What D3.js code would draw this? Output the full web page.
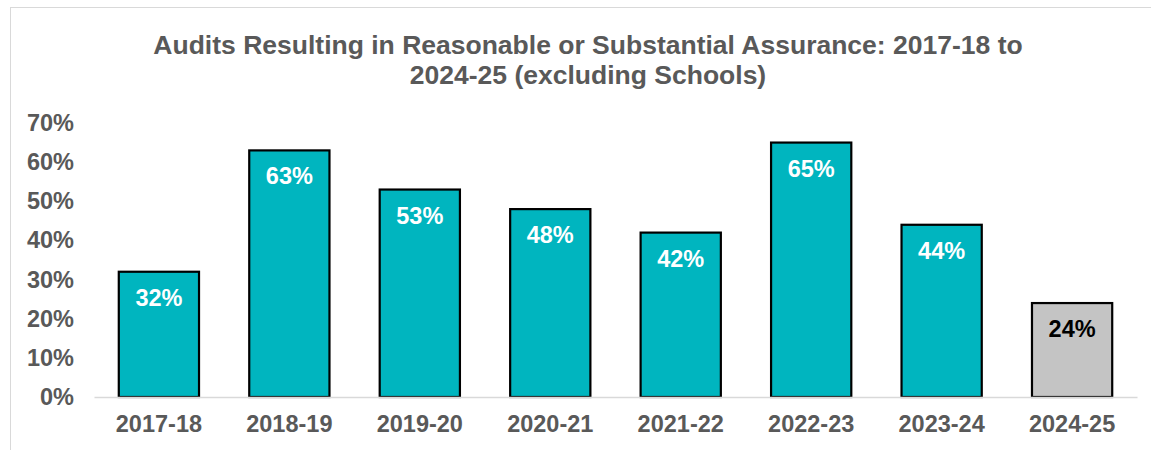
<!DOCTYPE html>
<meta charset="utf-8">
<title>Audits Resulting in Reasonable or Substantial Assurance</title>
<style>
  body { margin: 0; background: #fff; }
  svg { display: block; font-family: "Liberation Sans", Arial, sans-serif; }
</style>
<svg width="1151" height="450"></svg>
<script src="https://cdn.jsdelivr.net/npm/d3@7"></script>
<script>
  var years = ["2017-18", "2018-19", "2019-20", "2020-21", "2021-22", "2022-23", "2023-24", "2024-25"],
    values = [32, 63, 53, 48, 42, 65, 44, 24],
    yTicks = [0, 10, 20, 30, 40, 50, 60, 70],
    titleLines = ["Audits Resulting in Reasonable or Substantial Assurance: 2017-18 to", "2024-25 (excluding Schools)"]

  var svg = d3.select("svg"),
    margin = {top: 123, right: 14, bottom: 53, left: 94},
    width = 1151 - margin.left - margin.right,
    height = 450 - margin.top - margin.bottom

  // chart frame
  svg.append("rect")
    .attr("x", 10.5).attr("y", 7.5)
    .attr("width", 1200).attr("height", 600)
    .attr("fill", "none").attr("stroke", "#d9d9d9").attr("stroke-width", 1)

  svg.append("g").selectAll("text")
    .data(titleLines)
    .enter().append("text")
      .attr("x", 588)
      .attr("y", (d, i) => 53.5 + i * 30)
      .attr("text-anchor", "middle")
      .attr("font-size", "26.5px").attr("font-weight", "bold").attr("fill", "#595959")
      .text((d) => d)

  var x = d3.scaleBand().domain(years).range([0, width]).paddingInner(0.385).paddingOuter(0.19)
  var y = d3.scaleLinear().domain([0, 70]).range([height, 0])

  var g = svg.append("g").attr("transform", "translate(" + margin.left + "," + margin.top + ")")

  var yAxis = g.append("g")
    .call(d3.axisLeft(y).tickValues(yTicks).tickFormat((d) => d + "%").tickSize(0).tickPadding(20))
  yAxis.select(".domain").remove()
  yAxis.selectAll("text")
    .attr("font-size", "23.5px").attr("font-weight", "bold").attr("fill", "#595959")
    .attr("font-family", "Liberation Sans, Arial, sans-serif")

  g.selectAll(".bar")
    .data(values)
    .enter().append("rect")
      .attr("class", "bar")
      .attr("x", (d, i) => x(years[i]))
      .attr("y", (d) => y(d))
      .attr("width", x.bandwidth())
      .attr("height", (d) => height - y(d))
      .attr("fill", (d, i) => i == years.length - 1 ? "#c4c4c4" : "#00b5bf")
      .attr("stroke", "#000").attr("stroke-width", 2.2)

  var xAxis = g.append("g")
    .attr("transform", "translate(0," + height + ")")
    .call(d3.axisBottom(x).tickSize(0).tickPadding(18))
  xAxis.select(".domain").attr("stroke", "#d9d9d9").attr("stroke-width", 1.5)
  xAxis.selectAll("text")
    .attr("font-size", "23.5px").attr("font-weight", "bold").attr("fill", "#595959")
    .attr("font-family", "Liberation Sans, Arial, sans-serif")

  g.selectAll(".label")
    .data(values)
    .enter().append("text")
      .attr("class", "label")
      .attr("x", (d, i) => x(years[i]) + x.bandwidth() / 2)
      .attr("y", (d) => y(d) + 34)
      .attr("text-anchor", "middle")
      .attr("font-size", "23.5px").attr("font-weight", "bold")
      .attr("fill", (d, i) => i == years.length - 1 ? "#000" : "#fff")
      .text((d) => d + "%")
</script>
